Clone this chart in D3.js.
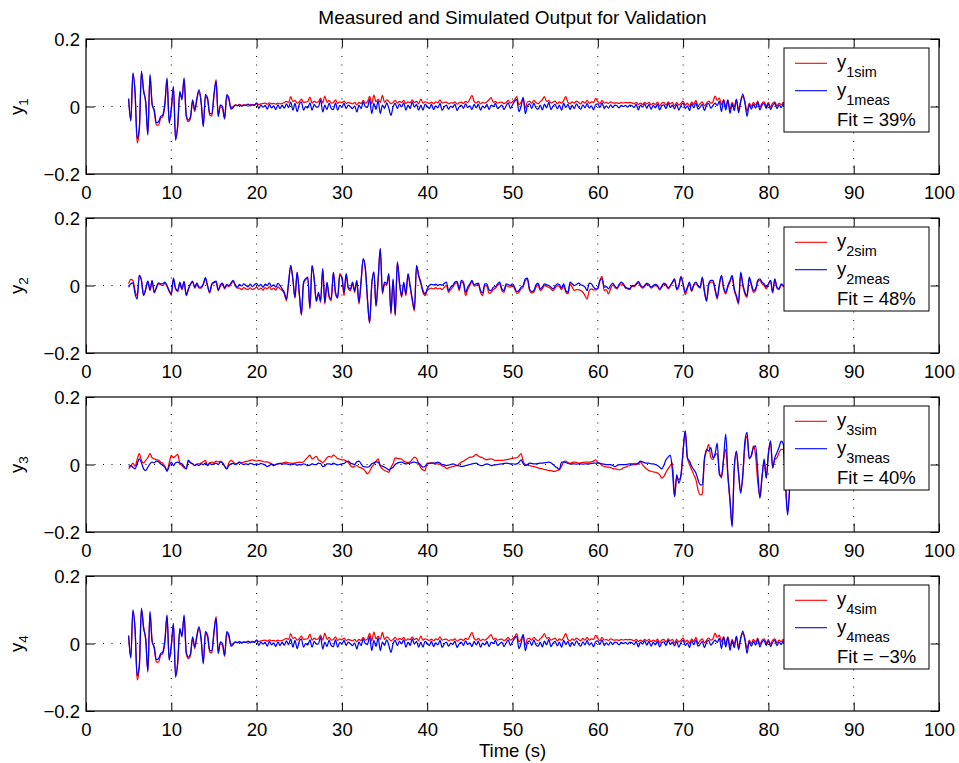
<!DOCTYPE html>
<html>
<head>
<meta charset="utf-8">
<script src="https://cdn.jsdelivr.net/npm/d3@7"></script>
<style>
  body { margin: 0; background: #fff; }
  text { font-family: "Liberation Sans", Arial, Helvetica, sans-serif; fill: #000; }
</style>
</head>
<body>
<div id="chartDiv"></div>
<script>
// sample grid: first sample time and spacing (s)
var tStart = 5, tStep = 0.25;

var xTicks = [0, 10, 20, 30, 40, 50, 60, 70, 80, 90, 100];
var yTicks = [0.2, 0, -0.2];
var yTickLabels = ["0.2", "0", "\u22120.2"];
var outputNames = ["1", "2", "3", "4"];
var fitLabels = ["Fit = 39%", "Fit = 48%", "Fit = 40%", "Fit = \u22123%"];

// values, in units of 1e-3, one row = 5 s (20 samples)
var y1sim = [
  20,-40,95,45, -108,-70,100,50, 10,-80,90,10, -15,-55,-55,-35, -30,5,80,-45,
  -10,55,-95,-60, 40,25,80,-30, -45,-35,15,-15, 20,45,15,-55, 30,20,-25,-28,
  30,80,-25,0, -5,-38,30,20, -5,0,5,3, 6,3,5,4, 7,5,6,5,
  9,6,8,9, 10,7,11,8, 9,7,10,8, 9,12,15,12, 29,15,18,10,
  14,22,12,13, 15,28,10,16, 12,14,25,10, 31,12,18,10, 12,20,9,14,
  11,16,9,12, 10,8,12,5, 12,9,18,10, 14,30,8,34, 14,22,12,33,
  12,20,15,8, 12,18,10,15, 12,18,9,14, 11,20,12,15, 8,22,10,14,
  12,9,13,8, 14,11,20,10, 12,13,8,11, 10,14,7,11, 13,9,15,12,
  22,33,15,10, 15,8,12,10, 14,20,26,12, 15,10,12,13, 8,12,18,10,
  14,20,29,5, 12,24,-5,14, 15,10,18,12, 8,14,20,29, 15,18,10,13,
  16,8,14,10, 18,29,12,8, 14,10,16,12, 8,15,10,18, 10,14,12,24,
  15,8,18,10, 12,9,14,11, 10,11,9,12, 10,12,11,12, 11,8,12,6,
  10,6,12,8, 12,5,10,6, 13,2,10,12, 4,14,8,12, 2,12,4,10,
  16,4,10,0, 14,6,18,2, 8,14,2,10, 16,10,14,31, 18,25,5,20,
  0,20,-8,12, -2,20,-10,16, 30,14,-15,10, 0,12,4,16, -2,10,14,2,
  12,-2,10,14, 2,10,5,12, 2,10,4,8, 5
];
var y1meas = [
  24,-43,100,40, -95,-65,105,45, 15,-85,95,5, -10,-48,-45,-30, -25,10,85,-50,
  -5,60,-100,-55, 45,20,85,-25, -40,-30,20,-10, 25,50,10,-60, 35,25,-20,-22,
  35,75,-30,5, 0,-35,35,25, -8,-3,4,2, 5,1,4,3, 6,2,5,3,
  11,-6,4,-2, 3,-8,6,-4, 2,-9,5,-6, 4,-5,8,-3, 14,-11,9,-15,
  6,14,-11,0, -4,11,-11,6, -2,-1,19,-16, 4,-9,10,-6, -9,11,-11,3,
  -1,9,-6,4, -1,-6,2,-16, 4,-6,14,-1, -3,21,-21,9, -9,17,-21,4,
  -6,11,-5,-26, -1,9,-6,7, -1,11,-11,4, -6,14,-2,6, -11,4,-11,6,
  1,-6,6,-9, 2,-4,9,-11, -1,4,-8,1, -3,7,-12,-1, 4,-6,8,-3,
  2,-9,6,-4, 7,-11,1,-4, 6,-9,4,0, 9,-6,-1,4, -9,2,11,-6,
  5,15,21,-15, 0,27,-21,2, 8,-6,10,-4, -8,4,-10,7, -4,12,-9,1,
  6,-7,4,-11, 9,-3,6,-9, 3,-6,8,-2, -8,5,-4,9, -5,2,-10,6,
  8,-3,11,-6, 2,-5,5,-3, 4,2,-4,3, 0,3,-2,4, 2,-3,6,-10,
  4,-2,8,-5, 6,-8,3,-4, 7,-10,2,5, -6,9,-3,4, -7,6,-11,3,
  10,-6,2,-12, 8,-4,11,-8, -2,6,-12,4, 9,-5,3,10, 3,15,-15,20,
  -10,18,-20,8, -12,22,-18,14, 37,10,-29,6, -8,6,-5,12, -10,4,9,-6,
  8,-9,3,10, -6,5,-3,7, -4,6,-2,3, 0
];
var y2sim = [
  5,18,15,-15, -30,30,15,-28, -12,12,-15,12, -22,-8,5,2, 0,6,-3,-18,
  -28,18,-10,-18, 6,-12,10,-30, -12,3,10,-8, 4,-8,-8,2, 20,-3,-22,2,
  8,10,-15,-2, 3,-10,0,-3, 4,12,-2,-8, -8,-12,-6,-10, -12,-7,-12,-9,
  -5,-12,-8,-14, -6,-10,-3,-12, -8,-14,-4,-10, -15,-25,-45,5, 58,18,-38,38,
  -25,-88,5,18, 22,-70,58,18, -48,-25,-50,48, -55,5,-35,-45, 38,-25,-38,35,
  22,-30,32,-10, -15,5,-20,12, -55,10,78,48, -45,-112,0,38, -62,15,108,-25,
  5,0,32,-85, 15,-90,68,5, -35,5,-30,32, -5,-45,-75,58, 28,5,-20,-30,
  -15,-10,-8,-10, -6,-10,-8,-12, -5,0,-20,-12, -5,5,8,-15, 10,5,-30,-12,
  0,12,-2,0, 3,-20,-30,0, -2,-23,-20,-12, -8,0,5,-15, -20,0,-3,-5,
  0,-10,-23,-20, -10,-5,15,18, -15,-22,-20,-5, 3,-15,-10,0, -3,-5,-10,-15,
  -8,0,-3,-12, 0,-20,-25,5, -5,-15,-12,-13, -15,-20,-30,-40, -15,-10,-13,-13,
  -10,15,27,-15, -12,-25,-10,2, -5,-10,0,5, 2,-8,-10,-12, -2,-3,2,8,
  -2,-8,-3,3, 0,-8,-3,0, -3,-13,-5,3, 0,-10,-3,8, 18,-13,-3,27,
  3,-27,-10,5, -18,0,5,-3, -8,22,-20,-47, 0,10,10,-15, -40,0,28,-10,
  -25,-5,10,25, -15,-35,-55,35, 0,-25,-35,20, 0,-20,-15,10, 15,5,0,-10,
  3,15,-22,18, -8,-12,2,-3, 0,-8,2,-3, -2
];
var y2meas = [
  -5,5,8,-25, -40,30,15,-30, -10,13,-13,15, -20,-5,8,5, 5,10,0,-15,
  -25,22,-8,-15, 10,-10,12,-28, -10,5,13,-5, 8,-5,-5,5, 23,0,-20,5,
  10,13,-13,2, 7,-7,3,0, 8,15,2,-5, 3,-2,5,0, -4,4,-3,2,
  6,-2,3,-5, 4,0,8,-3, 2,-5,6,0, -10,-20,-40,10, 60,20,-35,40,
  -20,-85,10,20, 25,-65,60,20, -45,-20,-45,50, -50,10,-30,-40, 40,-20,-35,30,
  25,-20,35,-5, -10,10,-15,15, -50,15,80,50, -40,-110,5,40, -60,20,110,-20,
  10,5,35,-80, 20,-85,70,10, -30,10,-25,35, 0,-40,-70,60, 30,10,-15,-25,
  -10,0,3,2, 4,0,3,1, 6,10,-15,-5, 0,10,12,-10, 15,10,-20,-5,
  5,15,2,5, 7,-15,-22,5, 5,-13,-15,-5, -3,5,10,-10, -15,5,3,0,
  5,-5,-18,-15, -5,0,20,22, -10,-18,-15,2, 7,-10,-5,5, 2,0,-5,-10,
  -2,5,3,-8, 5,-15,-20,10, 5,0,3,7, 2,0,-5,-15, 7,5,-5,-10,
  -8,15,20,-5, -3,-10,0,7, -2,-7,3,10, 5,-5,-8,-10, 0,0,5,12,
  2,-5,0,7, 3,-5,0,3, 0,-10,-2,7, 3,-7,0,10, 20,-10,0,25,
  5,-20,-5,10, -15,3,10,0, -5,25,-15,-45, 5,15,15,-10, -35,5,30,-5,
  -20,0,15,30, -10,-30,-50,40, 5,-20,-30,25, 5,-15,-10,15, 20,10,5,-5,
  5,15,-20,20, -5,-10,5,0, 3,-5,5,0, 0
];
var y3sim = [
  -13,-5,4,-5, 15,32,12,5, 12,20,32,20, 17,14,13,7, 4,-5,-18,5,
  27,20,25,30, 4,-3,-10,-13, 12,5,2,-3, 2,2,5,8, 12,-3,5,7,
  5,10,8,10, 5,-5,-13,5, 12,8,2,4, 7,5,7,9, 10,12,14,12,
  10,12,11,9, 7,8,5,2, -3,0,2,3, 4,6,7,5, 4,3,5,6,
  7,6,8,15, 22,28,16,20, 24,14,10,5, 12,20,24,22, 28,24,17,16,
  14,14,10,6, -3,-8,-5,-3, -8,-10,-13,-20, -28,-20,-8,0, 10,17,-5,-13,
  -18,-20,-23,-8, 2,20,18,17, 16,10,7,6, 8,15,22,18, 2,-10,-16,-18,
  4,4,5,4, 2,2,0,-4, -6,-12,-10,-8, -6,-4,-3,2, 7,10,14,18,
  22,22,25,30, 25,22,20,16, 14,16,17,14, 12,12,12,12, 13,14,15,17,
  18,20,20,25, 32,10,0,-2, -3,-5,-6,-8, -10,-12,-13,-15, -16,-18,-18,-20,
  -20,-18,-15,-5, 8,10,6,4, 6,7,6,4, 5,6,7,7, 7,8,10,14,
  6,3,-3,-6, -7,-8,-9,-12, -13,-14,-16,-14, -10,-8,-5,-3, -1,0,0,2,
  7,-1,-8,-14, -18,-20,-22,-23, -25,-30,-40,-35, -23,-12,-3,5, -95,-38,-45,-35,
  40,100,20,0, -15,-30,-45,-75, -90,-88,15,40, 60,20,15,27, 32,-20,-40,15,
  45,-35,-110,-180, -12,35,-25,-80, -35,55,85,18, 25,55,25,-50, -95,-35,10,-40,
  35,65,-10,15, 20,35,45,45, -50,-140,-70,25, 55
];
var y3meas = [
  -6,-3,-8,-13, 2,17,5,-13, -18,-8,2,7, 5,10,8,2, -3,-8,-20,-5,
  7,-3,5,7, 4,2,-6,-13, 12,5,2,-3, 0,-3,2,0, 4,-3,3,0,
  2,4,0,7, 5,-5,-13,-3, 2,3,0,2, 7,2,0,2, 0,3,2,-1,
  2,0,3,1, -2,-6,-3,1, -3,0,2,3, 1,2,2,0, -1,0,2,-2,
  0,-1,2,0, -3,-2,2,0, 0,4,3,-6, -4,2,2,0, 4,1,-1,0,
  2,3,8,10, 4,2,0,8, 10,2,-6,-7, -8,-5,2,5, 8,7,-3,-5,
  -8,-12,-16,-12, -8,0,4,6, 7,4,2,3, 4,6,7,5, 4,-2,-8,-5,
  2,3,4,4, 5,7,4,0, -1,-3,-2,0, 2,0,-3,-4, -6,-5,-3,-2,
  0,2,3,4, 0,-3,-3,0, 2,0,-3,-2, -1,0,1,2, 3,4,3,2,
  2,1,2,6, 14,3,-3,0, 4,3,2,2, 3,4,4,5, 6,7,5,0,
  -6,-10,-15,7, 7,6,3,2, 2,2,1,2, 2,1,2,2, 2,3,4,4,
  4,4,2,1, 0,0,0,-3, -6,-3,0,0, 0,0,1,2, 2,2,2,4,
  10,8,5,4, 4,2,2,0, -3,-8,-13,-2, 14,22,28,-20, -95,-30,-55,-30,
  40,100,20,10, -5,-15,-25,-45, -60,-60,15,45, 40,50,20,32, 63,-30,-35,20,
  90,-30,-105,-185, -8,40,-25,-85, -28,70,95,17, 27,50,55,-20, -100,-40,17,-40,
  30,71,-10,20, 35,51,69,60, -55,-150,-65,30, 60
];
// output 4 traces are the same shape as output 1 in the picture
var y4sim = y1sim;
var y4meas = y1meas;

var simSeries = [y1sim, y2sim, y3sim, y4sim];
var measSeries = [y1meas, y2meas, y3meas, y4meas];

// layout
var W = 959, H = 763;
var left = 86, top0 = 39, width = 853, height = 135, step = 179;
var tickLen = 8.5, fontSize = 18.5;

var svg = d3.select("#chartDiv").append("svg")
    .attr("width", W).attr("height", H)
    .style("background", "#fff");

var x = d3.scaleLinear().domain([0, 100]).range([0, width]);
var y = d3.scaleLinear().domain([-0.2, 0.2]).range([height, 0]);

var valueline = d3.line()
    .curve(d3.curveMonotoneX)
    .x(function(d, i) { return x(tStart + i * tStep); })
    .y(function(d) { return y(d / 1000); });

svg.append("text")
    .attr("x", left + width / 2).attr("y", 24)
    .attr("text-anchor", "middle")
    .style("font-size", "19px")
    .text("Measured and Simulated Output for Validation");

outputNames.forEach(function(name, k) {
    var g = svg.append("g")
        .attr("transform", "translate(" + left + "," + (top0 + k * step) + ")");

    // dotted grid
    g.selectAll(".vgrid").data(xTicks.slice(1, -1)).enter().append("line")
        .attr("x1", function(d) { return x(d); }).attr("x2", function(d) { return x(d); })
        .attr("y1", 0).attr("y2", height)
        .attr("stroke", "#000").attr("stroke-width", 1)
        .attr("stroke-dasharray", "1,7.5");
    g.append("line")
        .attr("x1", 0).attr("x2", width)
        .attr("y1", y(0)).attr("y2", y(0))
        .attr("stroke", "#000").attr("stroke-width", 1)
        .attr("stroke-dasharray", "1,7.5");

    // simulated (red) then measured (blue)
    g.append("path").attr("d", valueline(simSeries[k]))
        .attr("fill", "none").attr("stroke", "#ff0000").attr("stroke-width", 1.25);
    g.append("path").attr("d", valueline(measSeries[k]))
        .attr("fill", "none").attr("stroke", "#0000ff").attr("stroke-width", 1.25);

    // axes, ticks pointing inwards on all four sides
    var xb = g.append("g").attr("transform", "translate(0," + height + ")")
        .call(d3.axisBottom(x).tickValues(xTicks).tickSize(-tickLen));
    xb.selectAll("text").attr("y", 25).attr("dy", null);
    g.append("g").call(d3.axisTop(x).tickValues(xTicks).tickSize(-tickLen).tickFormat(""));
    var yl = g.append("g")
        .call(d3.axisLeft(y).tickValues(yTicks).tickSize(-tickLen).tickPadding(6)
            .tickFormat(function(d, i) { return yTickLabels[i]; }));
    g.append("g").attr("transform", "translate(" + width + ",0)")
        .call(d3.axisRight(y).tickValues(yTicks).tickSize(-tickLen).tickFormat(""));
    g.selectAll(".domain").remove();
    g.selectAll(".tick line").attr("stroke", "#000");
    g.selectAll(".tick text")
        .style("font-size", fontSize + "px")
        .attr("font-family", null);
    g.selectAll("g").attr("font-family", null).attr("font-size", null);
    yl.selectAll("text").attr("dy", "0.36em");

    g.append("rect")
        .attr("width", width).attr("height", height)
        .attr("fill", "none").attr("stroke", "#000").attr("stroke-width", 1.2);

    // y label with subscript
    var lab = svg.append("text")
        .attr("transform", "translate(23," + (top0 + k * step + height / 2) + ") rotate(-90)")
        .attr("text-anchor", "middle")
        .style("font-size", fontSize + "px");
    lab.append("tspan").text("y");
    lab.append("tspan").attr("dy", 5).style("font-size", "13.5px").text(name);

    // legend
    var lg = g.append("g").attr("transform", "translate(698,9)");
    lg.append("rect").attr("width", 145).attr("height", 84)
        .attr("fill", "#fff").attr("stroke", "#000").attr("stroke-width", 1);
    var entries = [
        {sub: name + "sim", color: "#ff0000", ly: 15.3},
        {sub: name + "meas", color: "#0000ff", ly: 42.7}
    ];
    entries.forEach(function(e) {
        lg.append("line").attr("x1", 11).attr("x2", 43)
            .attr("y1", e.ly).attr("y2", e.ly)
            .attr("stroke", e.color).attr("stroke-width", 1.1);
        var t = lg.append("text").attr("x", 53).attr("y", e.ly + 5)
            .style("font-size", fontSize + "px");
        t.append("tspan").text("y");
        t.append("tspan").attr("dy", 9).style("font-size", "14.5px").text(e.sub);
    });
    lg.append("text").attr("x", 53).attr("y", 78)
        .style("font-size", fontSize + "px")
        .text(fitLabels[k]);
});

svg.append("text")
    .attr("x", left + width / 2).attr("y", 757)
    .attr("text-anchor", "middle")
    .style("font-size", fontSize + "px")
    .text("Time (s)");
</script>
</body>
</html>
